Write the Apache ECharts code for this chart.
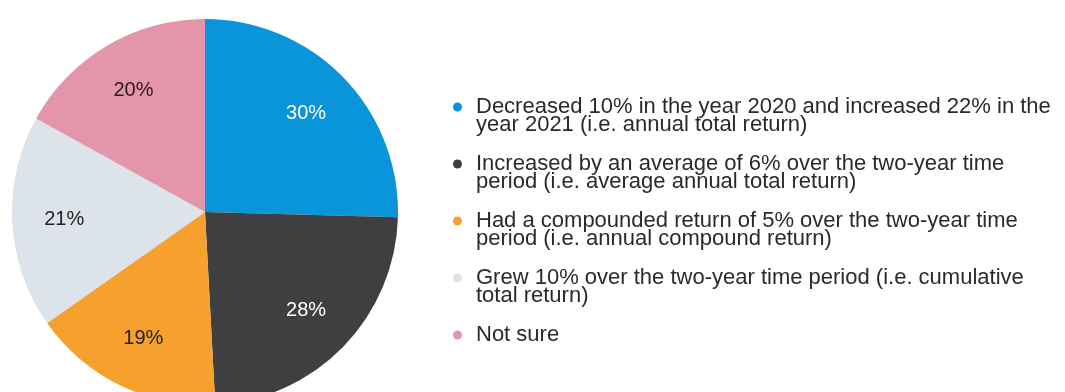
<!DOCTYPE html>
<html>
<head>
<meta charset="utf-8">
<script src="https://cdn.jsdelivr.net/npm/echarts@6/dist/echarts.min.js"></script>
<style>
  html, body { margin: 0; padding: 0; background: #ffffff; }
  #chart { width: 1065px; height: 392px; }
</style>
</head>
<body>
<div id="chart"></div>
<script>
// Survey answers and the share of respondents choosing each one
const categories = [
  'Decreased 10% in the year 2020 and increased 22% in the\nyear 2021 (i.e. annual total return)',
  'Increased by an average of 6% over the two-year time\nperiod (i.e. average annual total return)',
  'Had a compounded return of 5% over the two-year time\nperiod (i.e. annual compound return)',
  'Grew 10% over the two-year time period (i.e. cumulative\ntotal return)',
  'Not sure'
];
const shares = [30, 28, 19, 21, 20];
const sliceColors = ['#0a95da', '#3f3f42', '#f6a02e', '#dde3ea', '#e396a9'];
const labelColors = ['#ffffff', '#ffffff', '#222222', '#222222', '#2a1a1a'];

const FONT = '"Liberation Sans", Arial, sans-serif';
const R = 193;
const CENTER = [205, 212];

const pieData = categories.map((name, i) => ({
  name: name,
  value: shares[i],
  itemStyle: { color: sliceColors[i] }
}));

// Transparent ring used only to place the percentage labels further out
const labelData = categories.map((name, i) => ({
  name: name,
  value: shares[i],
  label: { color: labelColors[i] }
}));

const chart = echarts.init(document.getElementById('chart'), null, { renderer: 'canvas' });
chart.setOption({
  animation: false,
  backgroundColor: '#ffffff',
  legend: {
    orient: 'vertical',
    left: 448,
    top: 73,
    icon: 'circle',
    itemWidth: 9,
    itemHeight: 9,
    itemGap: -1,
    selectedMode: false,
    // An empty first line keeps the marker level with the first text line
    formatter: (name) => (name.indexOf('\n') >= 0 ? '\n' + name : '\n' + name + '\n'),
    textStyle: {
      fontFamily: FONT,
      fontSize: 22,
      lineHeight: 18,
      color: '#2a2a2a',
      padding: [0, 0, 0, 9]
    }
  },
  series: [
    {
      type: 'pie',
      center: CENTER,
      radius: [0, R],
      startAngle: 90,
      clockwise: true,
      silent: true,
      label: { show: false },
      labelLine: { show: false },
      data: pieData
    },
    {
      type: 'pie',
      center: CENTER,
      radius: [104, 172],
      startAngle: 90,
      clockwise: true,
      silent: true,
      itemStyle: { color: 'rgba(0,0,0,0)' },
      label: {
        show: true,
        position: 'inside',
        formatter: '{c}%',
        fontFamily: FONT,
        fontSize: 20
      },
      labelLine: { show: false },
      data: labelData
    }
  ]
});
</script>
</body>
</html>
